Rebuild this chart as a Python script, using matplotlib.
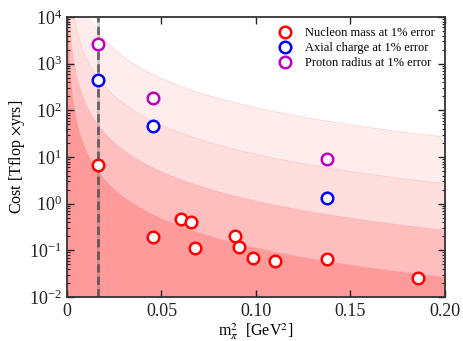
import numpy as np
import matplotlib
matplotlib.use("Agg")
import matplotlib.pyplot as plt
from matplotlib.ticker import LogLocator, NullFormatter

# ---- data ----
nucleon_x = [0.0166, 0.0453, 0.0603, 0.0654, 0.0677, 0.0887, 0.0912, 0.0982, 0.110, 0.1377, 0.1859]
nucleon_y = [6.8, 0.19, 0.46, 0.40, 0.11, 0.20, 0.12, 0.070, 0.060, 0.066, 0.025]
axial_x = [0.0166, 0.0453, 0.1377]
axial_y = [447, 46, 1.3]
radius_x = [0.0166, 0.0453, 0.1377]
radius_y = [2630, 186, 9.3]
physical_mpi2 = 0.0166

band_cost_at_020 = 0.027
band_exponent = 2.08
band_factors = [1, 10, 100, 1000]
band_colors = ["#ff9a9a", "#ffbebe", "#ffdede", "#ffeded"]

labels = ["Nucleon mass at 1% error", "Axial charge at 1% error", "Proton radius at 1% error"]
xtick_vals = [0, 0.05, 0.10, 0.15, 0.20]
xtick_labels = ["0", "0.05", "0.10", "0.15", "0.20"]

plt.rcParams['font.family'] = ['Liberation Serif', 'DejaVu Serif']
plt.rcParams['mathtext.fontset'] = 'stix'

fig = plt.figure(figsize=(4.64, 3.41), dpi=100)
ax = fig.add_axes([0.1444, 0.129, 0.8146, 0.821])

xs = np.linspace(1e-4, 0.2, 800)
ymin, ymax = 1e-2, 1e4
for f, c in reversed(list(zip(band_factors, band_colors))):
    curve = f * band_cost_at_020 * (xs / 0.2) ** (-band_exponent)
    ax.fill_between(xs, ymin, curve, color=c, lw=0, zorder=1)
    ax.plot(xs, curve, color="#ff9090", lw=0.5, alpha=0.35, zorder=1.5)

ax.axvline(physical_mpi2, color="#555555", ls="-", lw=2, alpha=0.25, zorder=2)
ax.axvline(physical_mpi2, color="#444444", ls=(0, (3, 1.5)), lw=2, alpha=0.75, zorder=2)

mk = dict(ls="none", marker="o", ms=8.3, mfc="white", mew=1.8, zorder=3)
ax.plot(nucleon_x, nucleon_y, mec="red", label=labels[0], **mk)
ax.plot(axial_x, axial_y, mec="blue", label=labels[1], **mk)
ax.plot(radius_x, radius_y, mec="#bf00bf", label=labels[2], **mk)

ax.set_yscale("log")
ax.set_xlim(0, 0.2)
ax.set_ylim(ymin, ymax)
ax.set_xticks(xtick_vals)
ax.set_xticklabels(xtick_labels)
ax.yaxis.set_major_locator(LogLocator(base=10, numticks=10))
ax.yaxis.set_minor_locator(LogLocator(base=10, subs=np.arange(2, 10), numticks=20))
ax.yaxis.set_minor_formatter(NullFormatter())
ax.tick_params(which="both", direction="in", top=True, right=True, labelsize=13, colors="#222222")
ax.tick_params(axis="x", pad=4)
ax.tick_params(which="major", length=5, width=1)
ax.tick_params(which="minor", length=2.5, width=0.8)
for s in ax.spines.values():
    s.set_color("#333333")
    s.set_linewidth(1.3)

ax.set_xlabel(r"m$_\pi^2$  [GeV$^2$]", fontsize=11.5, labelpad=1)
ax.set_ylabel(r"Cost [Tflop $\times$yrs]", fontsize=11.5, labelpad=2)

leg = ax.legend(loc="upper right", frameon=False, fontsize=9, handletextpad=0.6,
                labelspacing=0.25, borderaxespad=0.4, numpoints=1)

fig.savefig("out.png", dpi=100)
